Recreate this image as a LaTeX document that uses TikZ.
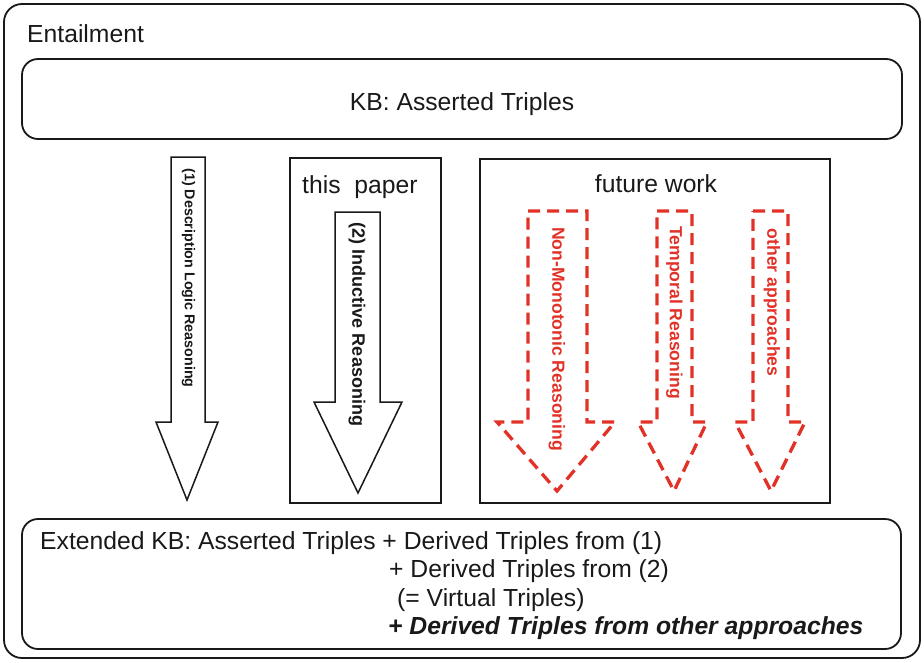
\documentclass[tikz,border=0pt]{standalone}
\usepackage{fontspec}
\setmainfont{Liberation Sans}
\definecolor{fwred}{RGB}{226,50,40}
\definecolor{ink}{RGB}{25,25,25}
\begin{document}
\begin{tikzpicture}[x=1pt,y=-1pt,
  rbox/.style={draw=ink,line width=1.8pt,rounded corners=16pt},
  frame/.style={draw=ink,line width=2.6pt},
  blkarrow/.style={draw=ink,line width=1.5pt,line join=miter,fill=white},
  redarrow/.style={draw=fwred,line width=3.3pt,dash pattern=on 12pt off 7pt},
  txt/.style={inner sep=0pt,text=ink,font=\fontsize{24.7}{28}\selectfont},
  vlab/.style={inner sep=0pt,rotate=-90,text=ink,font=\bfseries\fontsize{18}{20}\selectfont},
  redlab/.style={vlab,text=fwred,font=\bfseries\fontsize{17.6}{20}\selectfont},
]
\useasboundingbox (0,0) rectangle (924,662);
% outer frame
\draw[rbox,rounded corners=18pt] (4,4) rectangle (920,658);
\node[txt,anchor=base west] (ent) at (27,42) {Entailment};
% KB box
\draw[rbox] (22,59) rectangle (902,139);
\node[txt,anchor=base] (kb) at (462,110) {KB: Asserted Triples};
% arrow 1
\draw[blkarrow] (171,157) -- (205,157) -- (205,422) -- (218,422) -- (187,500) -- (156,422) -- (171,422) -- cycle;
\node[vlab,font=\bfseries\fontsize{14.3}{16}\selectfont] (a1) at (188.5,278) {(1) Description Logic Reasoning};
% this paper
\draw[frame] (290,158) rectangle (441,503);
\node[txt,anchor=base west] (tp) at (302,193) {this\ \ paper};
\draw[blkarrow] (335,212) -- (380,212) -- (380,402) -- (402,402) -- (358,493) -- (314,402) -- (335,402) -- cycle;
\node[vlab] (a2) at (357,324.5) {(2) Inductive Reasoning};
% future work
\draw[frame] (480,159) rectangle (830,503);
\node[txt,anchor=base] (fw) at (656,192) {future work};
\draw[redarrow] (528,211) -- (587,211) -- (587,422) -- (615,422) -- (557,491) -- (497,422) -- (528,422) -- cycle;
\node[redlab] (r1) at (557,339) {Non-Monotonic Reasoning};
\draw[redarrow] (657,211) -- (692,211) -- (692,422) -- (707,422) -- (674,491) -- (638,422) -- (657,422) -- cycle;
\node[redlab] (r2) at (674.5,312.5) {Temporal Reasoning};
\draw[redarrow] (753,211) -- (788,211) -- (788,422) -- (805,422) -- (771,491) -- (735,422) -- (753,422) -- cycle;
\node[redlab] (r3) at (772,302.5) {other approaches};
% extended KB box
\draw[rbox] (22,519) rectangle (901,649);
\node[txt,anchor=base west] (l1) at (40,549) {Extended KB: Asserted Triples + Derived Triples from (1)};
\node[txt,anchor=base west] (l2) at (389,577) {+ Derived Triples from (2)};
\node[txt,anchor=base west] (l3) at (397,606) {(= Virtual Triples)};
\node[txt,anchor=base west,font=\bfseries\itshape\fontsize{24.7}{28}\selectfont] (l4) at (388,634) {+ Derived Triples from other approaches};
\end{tikzpicture}
\end{document}
